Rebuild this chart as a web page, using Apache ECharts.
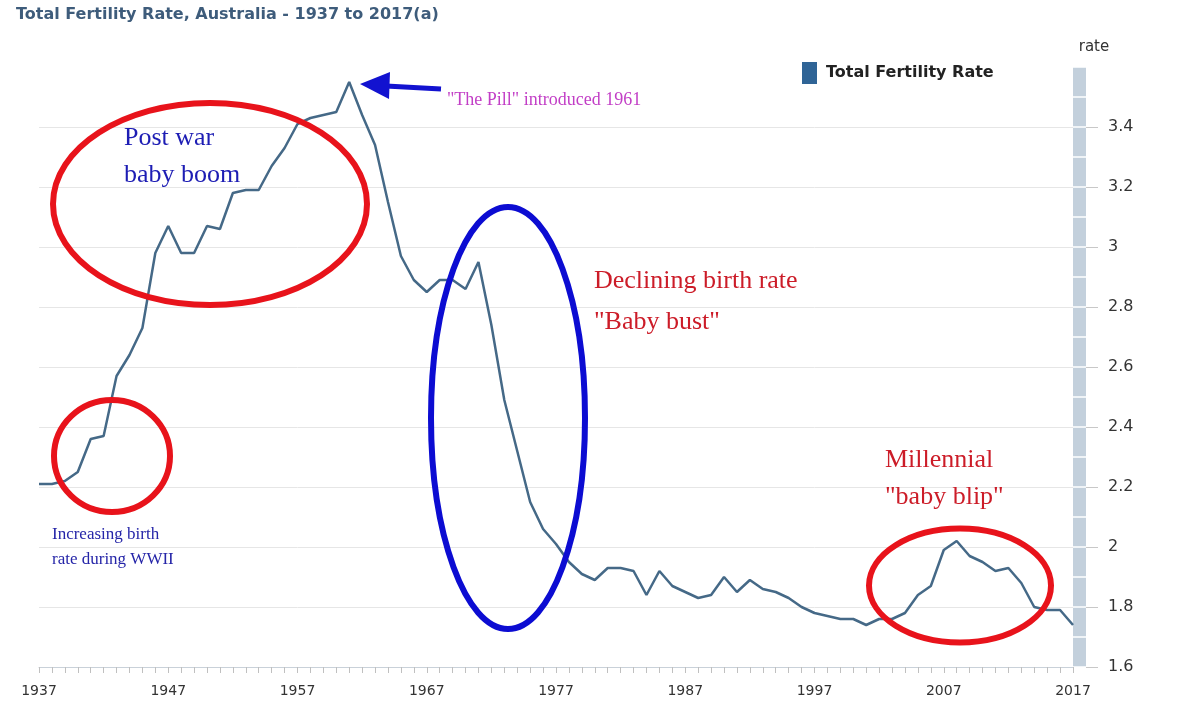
<!DOCTYPE html>
<html>
<head>
<meta charset="utf-8">
<script src="https://cdn.jsdelivr.net/npm/echarts@6/dist/echarts.min.js"></script>
<style>
html,body{margin:0;padding:0;background:#fff;}
#main{width:1200px;height:717px;}
</style>
</head>
<body>
<div id="main"></div>
<script>
const years = [];
for (let y = 1937; y <= 2017; y++) years.push(String(y));

const fertilityRate = [
  2.21, 2.21, 2.22, 2.25, 2.36, 2.37, 2.57, 2.64, 2.73, 2.98,
  3.07, 2.98, 2.98, 3.07, 3.06, 3.18, 3.19, 3.19, 3.27, 3.33,
  3.41, 3.43, 3.44, 3.45, 3.55, 3.44, 3.34, 3.15, 2.97, 2.89,
  2.85, 2.89, 2.89, 2.86, 2.95, 2.74, 2.49, 2.32, 2.15, 2.06,
  2.01, 1.95, 1.91, 1.89, 1.93, 1.93, 1.92, 1.84, 1.92, 1.87,
  1.85, 1.83, 1.84, 1.90, 1.85, 1.89, 1.86, 1.85, 1.83, 1.80,
  1.78, 1.77, 1.76, 1.76, 1.74, 1.76, 1.76, 1.78, 1.84, 1.87,
  1.99, 2.02, 1.97, 1.95, 1.92, 1.93, 1.88, 1.80, 1.79, 1.79,
  1.74
];

const seriesName = 'Total Fertility Rate';
const titleText = 'Total Fertility Rate, Australia - 1937 to 2017(a)';
const yName = 'rate';

const serif = '"Liberation Serif", "Times New Roman", serif';
const sans = '"DejaVu Sans", Verdana, sans-serif';

const chart = echarts.init(document.getElementById('main'), null, {renderer: 'canvas'});

const yCommon = {type: 'value', min: 1.6, max: 3.6, position: 'right'};

chart.setOption({
  animation: false,
  backgroundColor: '#ffffff',
  title: {
    text: titleText,
    left: 16, top: 7, padding: 0,
    textStyle: {fontFamily: sans, fontSize: 16, fontWeight: 'bold', color: '#3e5c7b'}
  },
  legend: {
    left: 802, top: 62, padding: 0,
    itemWidth: 15, itemHeight: 22,
    icon: 'rect',
    data: [{name: seriesName, itemStyle: {color: '#2f6496'}}],
    textStyle: {fontFamily: sans, fontSize: 16, fontWeight: 'bold', color: '#222', padding: [0, 0, 0, 4]}
  },
  grid: {left: 39, right: 127, top: 67, bottom: 50, containLabel: false},
  xAxis: {
    type: 'category',
    data: years,
    boundaryGap: false,
    axisLine: {show: true, lineStyle: {color: '#c9d1d9', width: 1}},
    axisTick: {show: true, interval: 0, length: 6, lineStyle: {color: '#c0c0c0'}},
    axisLabel: {interval: 9, margin: 17, fontFamily: sans, fontSize: 14, color: '#333'},
    splitLine: {show: false}
  },
  yAxis: [
    Object.assign({}, yCommon, {
      offset: 6.5, interval: 0.2,
      axisLine: {show: true, lineStyle: {color: '#c3d0dc', width: 13, cap: 'butt'}},
      axisTick: {show: false}, axisLabel: {show: false},
      splitLine: {show: true, showMaxLine: false, lineStyle: {color: '#e6e6e6', width: 1}}
    }),
    Object.assign({}, yCommon, {
      offset: 13, interval: 0.1,
      axisLine: {show: false},
      axisTick: {show: true, inside: true, length: 13, lineStyle: {color: '#ffffff', width: 1.5}},
      axisLabel: {show: false}, splitLine: {show: false}
    }),
    Object.assign({}, yCommon, {
      offset: 13, interval: 0.2,
      name: yName, nameLocation: 'end', nameGap: 12,
      nameTextStyle: {fontFamily: sans, fontSize: 15, color: '#333', padding: [0, 0, 0, 16]},
      axisLine: {show: false},
      axisTick: {show: true, length: 12, lineStyle: {color: '#c8c8c8', width: 1}},
      axisLabel: {margin: 22, fontFamily: sans, fontSize: 16, color: '#333', showMaxLabel: false},
      splitLine: {show: false}
    })
  ],
  series: [{
    name: seriesName,
    type: 'line',
    yAxisIndex: 0,
    data: fertilityRate,
    showSymbol: false,
    symbol: 'none',
    lineStyle: {color: '#456987', width: 2.5},
    itemStyle: {color: '#456987'},
    z: 3
  }],
  graphic: {
    elements: [
      {type: 'ellipse', z: 100, shape: {cx: 210, cy: 204, rx: 157, ry: 101},
        style: {fill: null, stroke: '#e8131b', lineWidth: 6}},
      {type: 'ellipse', z: 100, shape: {cx: 112, cy: 456, rx: 58, ry: 56},
        style: {fill: null, stroke: '#e8131b', lineWidth: 6}},
      {type: 'ellipse', z: 100, shape: {cx: 508, cy: 418, rx: 77, ry: 211},
        style: {fill: null, stroke: '#0c0cd2', lineWidth: 6}},
      {type: 'ellipse', z: 100, shape: {cx: 960, cy: 585.5, rx: 91, ry: 57},
        style: {fill: null, stroke: '#e8131b', lineWidth: 6}},
      {type: 'polyline', z: 100, shape: {points: [[386, 86], [441, 89]]},
        style: {stroke: '#1212d0', lineWidth: 5, fill: null}},
      {type: 'polygon', z: 100, shape: {points: [[360, 84], [390, 72], [389, 99]]},
        style: {fill: '#1212d0'}},
      {type: 'text', z: 100, style: {text: 'Post war', x: 124, y: 138, verticalAlign: 'middle',
        font: '26px ' + serif, fill: '#1d1db4'}},
      {type: 'text', z: 100, style: {text: 'baby boom', x: 124, y: 175, verticalAlign: 'middle',
        font: '26px ' + serif, fill: '#1d1db4'}},
      {type: 'text', z: 100, style: {text: 'Increasing birth', x: 52, y: 535, verticalAlign: 'middle',
        font: '17px ' + serif, fill: '#2525a8'}},
      {type: 'text', z: 100, style: {text: 'rate during WWII', x: 52, y: 560, verticalAlign: 'middle',
        font: '17px ' + serif, fill: '#2525a8'}},
      {type: 'text', z: 100, style: {text: '"The Pill" introduced 1961', x: 447, y: 100, verticalAlign: 'middle',
        font: '18px ' + serif, fill: '#c23ec6'}},
      {type: 'text', z: 100, style: {text: 'Declining birth rate', x: 594, y: 281, verticalAlign: 'middle',
        font: '26px ' + serif, fill: '#cc1c28'}},
      {type: 'text', z: 100, style: {text: '"Baby bust"', x: 594, y: 322, verticalAlign: 'middle',
        font: '26px ' + serif, fill: '#cc1c28'}},
      {type: 'text', z: 100, style: {text: 'Millennial', x: 885, y: 460, verticalAlign: 'middle',
        font: '26px ' + serif, fill: '#cc1c28'}},
      {type: 'text', z: 100, style: {text: '"baby blip"', x: 885, y: 497, verticalAlign: 'middle',
        font: '26px ' + serif, fill: '#cc1c28'}}
    ]
  }
});
</script>
</body>
</html>
